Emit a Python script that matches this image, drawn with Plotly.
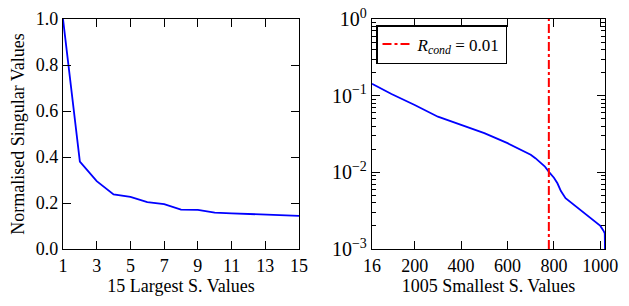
import plotly.graph_objects as go

# Left panel: 15 largest normalised singular values
left_x = list(range(1, 16))
left_y = [1.0, 0.38, 0.295, 0.237, 0.227, 0.204, 0.195, 0.171, 0.170, 0.158, 0.155, 0.152, 0.147, 0.146, 0.144]

# Right panel: smallest singular values (log scale)
right_x = [16, 100, 200, 300, 400, 500, 600, 700, 720, 760, 780, 800, 815, 830, 850, 880, 900, 950, 1000, 1015, 1019, 1020]
right_y = [0.143, 0.105, 0.0757, 0.0532, 0.0415, 0.0324, 0.024, 0.017, 0.0153, 0.012, 0.0100, 0.0085, 0.0072, 0.0057, 0.0046, 0.0039, 0.0034, 0.0026, 0.0020, 0.0017, 0.0016, 0.0009]

rcond_x = 778
rcond_label = "<i>R</i><sub><i>cond</i></sub> = 0.01"

x_ticks_left = [1, 3, 5, 7, 9, 11, 13, 15]
y_ticks_left = [0.0, 0.2, 0.4, 0.6, 0.8, 1.0]
x_ticks_right = [16, 200, 400, 600, 800, 1000]
y_ticks_right = [1e-3, 1e-2, 1e-1, 1]
y_ticktext_right = ["10<sup>−3</sup>", "10<sup>−2</sup>", "10<sup>−1</sup>", "10<sup>0</sup>"]

FONT = "Liberation Serif, Times New Roman, DejaVu Serif, serif"
BLUE = "#0000ff"

fig = go.Figure()
fig.add_trace(go.Scatter(x=left_x, y=left_y, mode="lines", line=dict(color=BLUE, width=1.8),
                         showlegend=False, xaxis="x", yaxis="y"))
fig.add_trace(go.Scatter(x=right_x, y=right_y, mode="lines", line=dict(color=BLUE, width=1.8),
                         showlegend=False, xaxis="x2", yaxis="y2"))
fig.add_trace(go.Scatter(x=[rcond_x, rcond_x], y=[1e-3, 1], mode="lines",
                         line=dict(color="#ff0000", width=2, dash="dashdot"),
                         name=rcond_label, showlegend=True, xaxis="x2", yaxis="y2"))

axis_common = dict(showline=True, linecolor="black", linewidth=1.3, mirror="allticks",
                   ticks="inside", ticklen=8, tickwidth=1, tickcolor="black",
                   showgrid=False, zeroline=False, automargin=False,
                   ticklabeloverflow="allow")
tick_font = dict(family=FONT, size=18, color="black")

W, H = 629, 306
ML, MR, MT, MB = 63, 24, 19, 57
PW = W - ML - MR
PH = H - MT - MB
title_font = dict(family=FONT, size=18, color="black")

fig.update_layout(
    width=W, height=H,
    margin=dict(l=ML, r=MR, t=MT, b=MB),
    paper_bgcolor="white", plot_bgcolor="white",
    font=dict(family=FONT, size=18, color="black"),
    xaxis=dict(domain=[0, (299 - ML) / PW], range=[1, 15], tickvals=x_ticks_left,
               title=dict(text="15 Largest S. Values", font=title_font, standoff=2),
               anchor="y", tickfont=tick_font, **axis_common),
    yaxis=dict(domain=[0, 1], range=[0, 1], tickvals=y_ticks_left, tickformat=".1f",
               title=dict(text="Normalised Singular Values", font=title_font, standoff=6),
               anchor="x", tickfont=tick_font, **axis_common),
    xaxis2=dict(domain=[(372 - ML) / PW, 1], range=[16, 1020], tickvals=x_ticks_right,
                title=dict(text="1005 Smallest S. Values", font=title_font, standoff=2),
                anchor="y2", tickfont=tick_font, **axis_common),
    yaxis2=dict(domain=[0, 1], type="log", range=[-3, 0], tickvals=y_ticks_right, ticktext=y_ticktext_right,
                anchor="x2", tickfont=dict(family=FONT, size=20, color="black"),
                minor=dict(ticks="inside", ticklen=4, tickcolor="black",
                           tickvals=[m * 10 ** e for e in (-3, -2, -1) for m in range(2, 10)]),
                **axis_common),
    legend=dict(x=(376 - ML) / PW, y=1 - 6 / PH, xanchor="left", yanchor="top",
                bgcolor="white", bordercolor="black", borderwidth=1.5,
                font=dict(family=FONT, size=17), itemwidth=30),
)

# remove the default 8px page margin so the figure fills the window exactly
fig.write_html("out.html", config={"displayModeBar": False},
               post_script="document.body.style.margin='0';document.body.style.overflow='hidden';")
